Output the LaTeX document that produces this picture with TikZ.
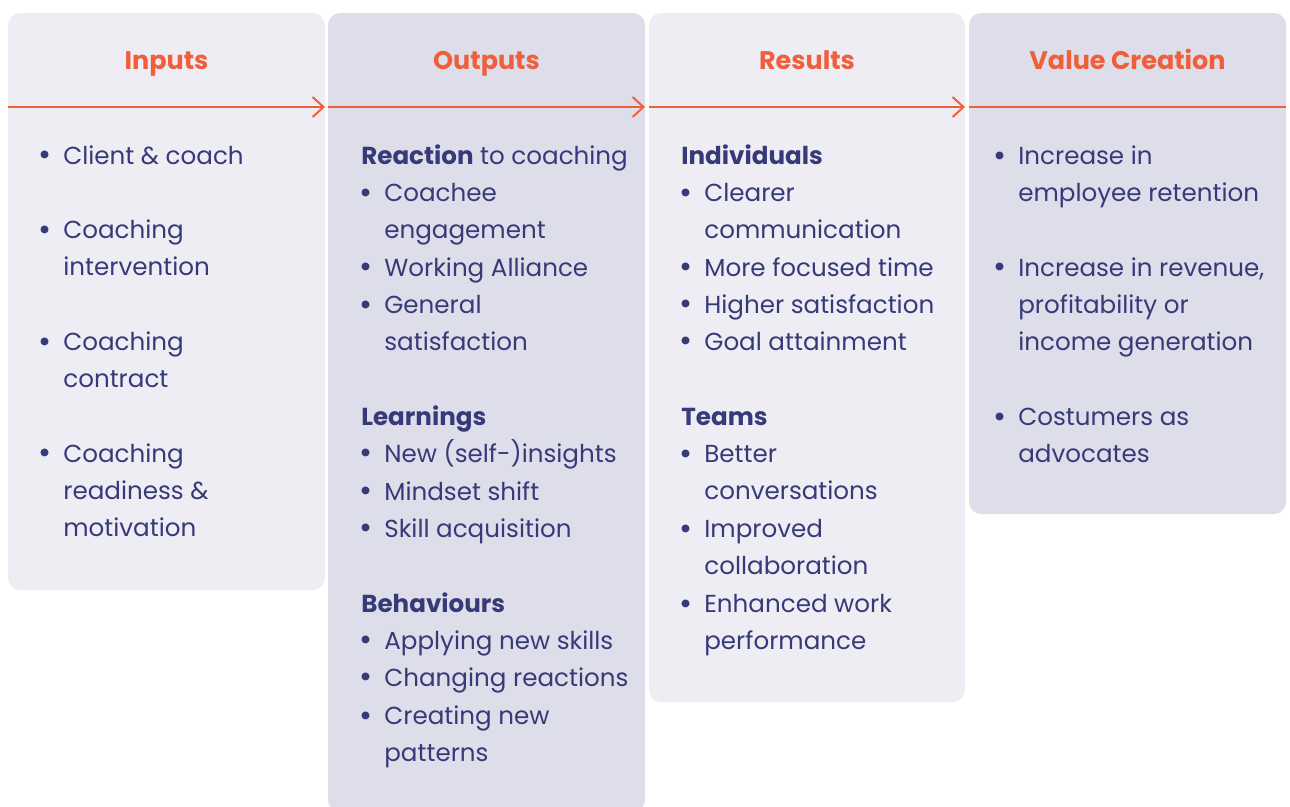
\documentclass[tikz,border=0pt]{standalone}
\usepackage{fontspec}
\setmainfont{Poppins}
\usepackage{xcolor}
\usepackage{tikz}
\usetikzlibrary{arrows.meta}
\definecolor{panellt}{RGB}{238,237,244}
\definecolor{paneldk}{RGB}{222,222,234}
\definecolor{headorg}{RGB}{240,94,60}
\definecolor{textnavy}{RGB}{55,58,120}
\newcommand{\bull}{\llap{\raisebox{-1pt}{\fontsize{18}{18}\selectfont\textbullet}\hspace{6.5pt}}}
\tikzset{
  pnl/.style  ={rounded corners=0.24cm},
  flow/.style ={draw=headorg, line width=1.1pt},
  flowa/.style={flow, -{Straight Barb[length=0.22cm,width=0.4cm,line width=1.1pt]}},
  hd/.style   ={font=\fontsize{14.5}{17}\selectfont\bfseries, text=headorg, inner sep=0pt, anchor=base},
  txt/.style  ={font=\fontsize{14}{21.2}\selectfont, text=textnavy, align=left, inner sep=0pt, anchor=base west},
}
\begin{document}
\begin{tikzpicture}[x=0.02cm,y=-0.02cm]
  \useasboundingbox (0,0) rectangle (1290,806);
  % the four columns
  \fill[pnl,panellt] (8,13) rectangle (325,590);
  \fill[pnl,paneldk] (328,13) rectangle (645,812);
  \fill[pnl,panellt] (649,13) rectangle (965,702);
  \fill[pnl,paneldk] (969,13) rectangle (1286,514);
  % column heads
  \node[hd] (hin)  at (166.5,69)  {Inputs};
  \node[hd] (hout) at (486.5,69)  {Outputs};
  \node[hd] (hres) at (807,69)    {Results};
  \node[hd] (hval) at (1127.5,69) {Value Creation};
  % flow line under the heads
  \coordinate (f0) at (8,107);
  \coordinate (f1) at (325,107);
  \coordinate (f2) at (328,107);
  \coordinate (f3) at (645,107);
  \coordinate (f4) at (649,107);
  \coordinate (f5) at (965,107);
  \coordinate (f6) at (969,107);
  \coordinate (f7) at (1286,107);
  \draw[flowa] (f0) -- (f1);
  \draw[flowa] (f2) -- (f3);
  \draw[flowa] (f4) -- (f5);
  \draw[flow]  (f6) -- (f7);
  % inputs (y = baseline of the last line)
  \node[txt] (in1) at (63,164)   {\bull Client \& coach};
  \node[txt] (in2) at (63,275.5) {\bull Coaching\\intervention};
  \node[txt] (in3) at (63,387.5) {\bull Coaching\\contract};
  \node[txt] (in4) at (63,536.5) {\bull Coaching\\readiness \&\\motivation};
  % outputs
  \node[txt] (rea)  at (361,164)   {\textbf{Reaction} to coaching};
  \node[txt] (out1) at (384,238.5) {\bull Coachee\\engagement};
  \node[txt] (out2) at (384,276)   {\bull Working Alliance};
  \node[txt] (out3) at (384,350.5) {\bull General\\satisfaction};
  \node[txt] (lrn)  at (361,425)   {\textbf{Learnings}};
  \node[txt] (out4) at (384,462)   {\bull New (self-)insights};
  \node[txt] (out5) at (384,500)   {\bull Mindset shift};
  \node[txt] (out6) at (384,537)   {\bull Skill acquisition};
  \node[txt] (beh)  at (361,612)   {\textbf{Behaviours}};
  \node[txt] (out7) at (384,649)   {\bull Applying new skills};
  \node[txt] (out8) at (384,686)   {\bull Changing reactions};
  \node[txt] (out9) at (384,761.5) {\bull Creating new\\patterns};
  % results
  \node[txt] (ind)  at (681,164)   {\textbf{Individuals}};
  \node[txt] (res1) at (704,238.5) {\bull Clearer\\communication};
  \node[txt] (res2) at (704,276)   {\bull More focused time};
  \node[txt] (res3) at (704,313)   {\bull Higher satisfaction};
  \node[txt] (res4) at (704,350)   {\bull Goal attainment};
  \node[txt] (tms)  at (681,425)   {\textbf{Teams}};
  \node[txt] (res5) at (704,499.5) {\bull Better\\conversations};
  \node[txt] (res6) at (704,574.5) {\bull Improved\\collaboration};
  \node[txt] (res7) at (704,649.5) {\bull Enhanced work\\performance};
  % value creation
  \node[txt] (val1) at (1018,201.5) {\bull Increase in\\employee retention};
  \node[txt] (val2) at (1018,350.5) {\bull Increase in revenue,\\profitability or\\income generation};
  \node[txt] (val3) at (1018,462.5) {\bull Costumers as\\advocates};
\end{tikzpicture}
\end{document}
